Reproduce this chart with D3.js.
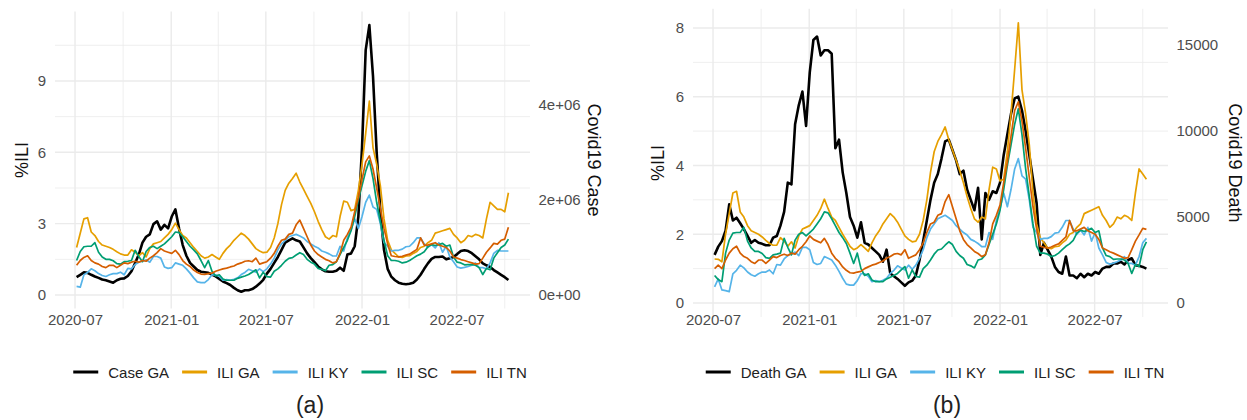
<!DOCTYPE html>
<meta charset="utf-8">
<body style="margin:0;background:#fff">
<div id="chart"></div>

<script src="https://d3js.org/d3.v7.min.js"></script>

<style type="text/css">
  text { font-family: "Liberation Sans", Arial, sans-serif; }
</style>

<script>

// weekly series, first week ends 2020-07-04
var firstWeek = "2020-07-04";

// Covid19 weekly cases, thousands (panel a)
var caseGA = [
  375, 425, 475, 465, 425, 390, 360, 325, 310, 285,
  260, 310, 340, 350, 400, 500, 675, 850, 1100, 1225,
  1275, 1490, 1550, 1375, 1475, 1400, 1650, 1800, 1400, 1050,
  825, 675, 600, 525, 490, 480, 465, 430, 390, 340,
  285, 250, 210, 150, 100, 70, 100, 100, 125, 175,
  240, 320, 450, 550, 675, 800, 950, 1100, 1150, 1190,
  1150, 1125, 1000, 875, 775, 690, 600, 540, 500, 490,
  490, 510, 575, 510, 850, 875, 1025, 1650, 3100, 5150,
  5675, 4600, 3000, 1750, 950, 550, 385, 310, 260, 235,
  225, 235, 260, 325, 425, 550, 665, 760, 800, 800,
  810, 750, 775, 800, 860, 925, 940, 925, 880, 815,
  750, 665, 625, 590, 525, 475, 425, 375, 315
];

// Covid19 weekly deaths (panel b)
var deathGA = [
  2800, 3280, 3600, 4200, 5740, 4800, 4960, 4640, 4300, 3900,
  3500, 3660, 3500, 3440, 3360, 3360, 3800, 3900, 4500, 5300,
  7000, 6900, 10400, 11500, 12300, 10300, 13400, 15300, 15500, 14400,
  14700, 14700, 14500, 9000, 9500, 7600, 6400, 5000, 4500, 3800,
  4700, 3500, 3400, 3200, 3000, 2800, 2400, 3100, 1720, 1560,
  1400, 1200, 1000, 1200, 1300, 1600, 2500, 3600, 4800, 6000,
  7000, 7500, 8400, 9400, 9500, 8900, 8300, 7500, 7700, 6600,
  6000, 5400, 6700, 3700, 6400, 6000, 6500, 6400, 7000, 8600,
  9800, 11000, 11900, 12000, 11200, 10000, 8600, 7200, 5800, 2800,
  3500, 3100, 2700, 2100, 1800, 1700, 2700, 1600, 1600, 1440,
  1700, 1500, 1700, 1600, 1800, 1700, 2000, 2100, 2100, 2300,
  2300, 2400, 2240, 2500, 2600, 2200, 2160, 2100, 2000
];

// %ILI by state (3 more weeks than the covid series)
var iliGA = [
  1.28, 1.27, 1.20, 2.00, 2.60, 3.20, 3.25, 2.65, 2.50, 2.25,
  2.10, 2.05, 2.00, 1.92, 1.82, 1.73, 1.68, 1.68, 1.90, 1.80,
  1.65, 1.78, 1.60, 1.95, 2.15, 2.20, 2.25, 2.40, 2.55, 2.75,
  3.02, 2.75, 2.50, 2.40, 2.20, 2.00, 1.83, 1.65, 1.55, 1.60,
  1.70, 1.60, 1.50, 1.75, 1.95, 2.10, 2.30, 2.45, 2.60, 2.50,
  2.35, 2.15, 1.95, 1.85, 1.78, 1.80, 2.00, 2.40, 3.00, 3.80,
  4.40, 4.70, 4.90, 5.12, 4.75, 4.45, 4.15, 3.85, 3.50, 3.10,
  2.75, 2.45, 2.35, 2.50, 2.45, 3.30, 3.95, 3.90, 3.55, 3.60,
  4.40, 5.50, 6.80, 8.15, 6.20, 5.50, 4.60, 3.20, 2.30, 1.90,
  1.75, 1.60, 1.58, 1.64, 1.65, 1.75, 1.83, 2.00, 2.05, 2.20,
  2.30, 2.60, 2.65, 2.70, 2.75, 2.80, 2.55, 2.40, 2.20, 2.30,
  2.50, 2.45, 2.55, 2.50, 2.40, 3.20, 3.90, 3.75, 3.60, 3.60,
  3.50, 4.30
];
var iliKY = [
  0.47, 0.70, 0.38, 0.36, 0.33, 0.85, 0.95, 1.10, 1.02, 0.90,
  0.82, 0.78, 0.85, 0.90, 0.90, 0.96, 0.85, 1.12, 1.10, 1.28,
  1.38, 1.42, 1.48, 1.38, 1.62, 1.62, 1.55, 1.18, 1.12, 1.15,
  1.35, 1.30, 1.25, 1.10, 0.92, 0.72, 0.55, 0.52, 0.52, 0.65,
  0.85, 0.85, 0.78, 0.62, 0.65, 0.62, 0.66, 0.72, 0.86, 0.95,
  1.08, 1.02, 0.96, 1.10, 0.98, 1.10, 1.30, 1.55, 1.90, 2.15,
  2.30, 2.45, 2.50, 2.55, 2.48, 2.40, 2.25, 2.15, 2.05, 1.98,
  1.85, 1.80, 1.73, 1.64, 1.64, 2.05, 1.85, 2.40, 2.75, 3.20,
  2.80, 3.30, 3.90, 4.20, 3.70, 3.60, 3.00, 2.20, 2.05, 1.85,
  1.88, 1.88, 1.93, 2.03, 2.05, 2.20, 2.40, 2.40, 2.15, 2.00,
  2.12, 1.98, 2.20, 1.80, 2.05, 1.60, 1.40, 1.18, 1.13, 1.16,
  1.20, 1.25, 1.35, 1.15, 1.15, 1.10, 1.35, 1.75, 1.88, 1.85,
  1.85, 1.85
];
var iliSC = [
  0.80, 0.68, 0.62, 1.45, 1.83, 2.03, 2.05, 2.05, 2.20, 1.80,
  1.60, 1.50, 1.50, 1.44, 1.32, 1.30, 1.40, 1.42, 1.45, 1.88,
  1.62, 1.40, 1.83, 2.00, 2.05, 1.95, 2.05, 2.15, 2.30, 2.45,
  2.65, 2.62, 2.45, 2.25, 2.05, 1.90, 1.73, 1.45, 1.15, 1.45,
  1.00, 0.80, 0.85, 0.67, 0.62, 0.62, 0.62, 0.70, 0.75, 0.80,
  0.86, 0.96, 1.06, 0.72, 0.96, 0.77, 0.75, 1.00, 1.10, 1.25,
  1.42, 1.54, 1.57, 1.68, 1.78, 1.70, 1.50, 1.38, 1.30, 1.12,
  1.08, 1.02, 1.25, 1.28, 1.40, 1.70, 2.00, 2.30, 2.70, 3.30,
  4.00, 4.60, 5.20, 5.65, 4.90, 3.90, 3.10, 2.30, 1.65, 1.45,
  1.45, 1.42, 1.35, 1.38, 1.45, 1.55, 1.65, 1.72, 1.82, 2.03,
  2.12, 2.08, 2.12, 2.17, 2.05, 2.10, 1.60, 1.38, 1.35, 1.27,
  1.28, 1.28, 1.25, 1.15, 0.86, 1.12, 1.06, 1.55, 1.78, 2.00,
  2.10, 2.35
];
var iliTN = [
  1.00, 1.10, 1.00, 1.25, 1.45, 1.58, 1.65, 1.45, 1.35, 1.30,
  1.20, 1.15, 1.25, 1.25, 1.15, 1.25, 1.35, 1.32, 1.38, 1.42,
  1.38, 1.45, 1.42, 1.55, 1.65, 1.78, 1.95, 1.85, 1.80, 1.75,
  1.88, 1.70, 1.45, 1.30, 1.20, 1.05, 0.95, 0.88, 0.87, 0.90,
  0.92, 1.00, 1.05, 1.10, 1.13, 1.18, 1.22, 1.30, 1.35, 1.42,
  1.44, 1.40, 1.55, 1.30, 1.35, 1.40, 1.55, 1.75, 2.05, 2.30,
  2.35, 2.55, 2.60, 2.95, 3.15, 2.80, 2.45, 2.10, 1.85, 1.70,
  1.60, 1.50, 1.44, 1.35, 1.40, 1.75, 2.30, 2.55, 2.85, 3.50,
  4.10, 4.85, 5.60, 5.85, 5.30, 4.50, 3.65, 2.80, 2.15, 1.65,
  1.62, 1.60, 1.63, 1.68, 1.72, 1.82, 1.92, 2.40, 2.10, 2.10,
  2.15, 2.20, 2.10, 2.05, 2.00, 1.85, 1.60, 1.55, 1.49, 1.45,
  1.40, 1.35, 1.30, 1.32, 1.55, 1.80, 1.98, 2.17, 2.14, 2.30,
  2.35, 2.85
];

// in panel (a) the ILI is shown 3 weeks earlier (lined up with cases)
var iliLeadWeeks = 3;

var iliNames = ["ILI GA", "ILI KY", "ILI SC", "ILI TN"];
var iliColors = ["#E69F00", "#56B4E9", "#009E73", "#D55E00"];

var dateTicks = ["2020-07", "2021-01", "2021-07", "2022-01", "2022-07"];
var caseTicks = [0, 2e6, 4e6];
var caseTickLabels = ["0e+00", "2e+06", "4e+06"];
var deathTicks = [0, 5000, 10000, 15000];

var font = '"Liberation Sans", Arial, sans-serif';
var parseDay = d3.timeParse("%Y-%m-%d"),
    parseMonth = d3.timeParse("%Y-%m");

var svg = d3.select("#chart")
  .append("svg")
    .attr("width", 1247)
    .attr("height", 420);

function expand(lo, hi, f) {
  var d = (hi - lo) * f;
  return [lo - d, hi + d];
}

function styleAxis(g) {
  g.select(".domain").remove();
  g.attr("font-family", font).attr("font-size", 15);
  g.selectAll("text").attr("fill", "#4d4d4d");
}

function drawPanel(p) {
  var g = svg.append("g");
  var n = p.black.length;
  var weeks = d3.range(n).map(function(i) { return d3.timeWeek.offset(parseDay(firstWeek), i); });
  var ili = [iliGA, iliKY, iliSC, iliTN].map(function(s) { return s.slice(p.iliOffset, p.iliOffset + n); });

  var x = d3.scaleTime()
    .domain(expand(+weeks[0], +weeks[n - 1], 0.05).map(function(v) { return new Date(v); }))
    .range([p.left, p.right]);

  var top = Math.max(d3.max(p.black) / p.factor, d3.max(ili, function(s) { return d3.max(s); }));
  var y = d3.scaleLinear()
    .domain(expand(0, top, 0.05))
    .range([p.bottom, p.top]);
  // secondary axis, same positions in covid units
  var yR = d3.scaleLinear()
    .domain(y.domain().map(function(v) { return v * p.factor; }))
    .range(y.range());

  // grid
  var step = p.yTicks[1] - p.yTicks[0];
  var yMinor = p.yTicks.map(function(t) { return t + step / 2; })
    .filter(function(v) { return v < y.domain()[1]; });
  var xMajor = dateTicks.map(parseMonth);
  var xMinor = xMajor.map(function(d) { return d3.timeMonth.offset(d, 3); })
    .filter(function(d) { return d < x.domain()[1]; });

  var grid = g.append("g").attr("stroke", "#ebebeb").attr("fill", "none");
  grid.selectAll(".hmin").data(yMinor).enter().append("line")
    .attr("x1", p.left).attr("x2", p.right)
    .attr("y1", y).attr("y2", y)
    .attr("stroke-width", 0.8);
  grid.selectAll(".vmin").data(xMinor).enter().append("line")
    .attr("x1", x).attr("x2", x)
    .attr("y1", p.top).attr("y2", p.bottom)
    .attr("stroke-width", 0.8);
  grid.selectAll(".hmaj").data(p.yTicks).enter().append("line")
    .attr("x1", p.left).attr("x2", p.right)
    .attr("y1", y).attr("y2", y)
    .attr("stroke-width", 1.4);
  grid.selectAll(".vmaj").data(xMajor).enter().append("line")
    .attr("x1", x).attr("x2", x)
    .attr("y1", p.top).attr("y2", p.bottom)
    .attr("stroke-width", 1.4);

  // axes
  g.append("g")
    .attr("transform", "translate(0,314)")
    .call(d3.axisBottom(x).tickValues(xMajor).tickFormat(d3.timeFormat("%Y-%m")).tickSize(0).tickPadding(0))
    .call(styleAxis);

  g.append("g")
    .attr("transform", "translate(" + p.left + ",0)")
    .call(d3.axisLeft(y).tickValues(p.yTicks).tickFormat(d3.format("d")).tickSize(0).tickPadding(9))
    .call(styleAxis);

  g.append("g")
    .attr("transform", "translate(" + p.right + ",0)")
    .call(d3.axisRight(yR).tickValues(p.rTicks).tickFormat(function(d, i) { return p.rLabels[i]; }).tickSize(0).tickPadding(8.5))
    .call(styleAxis);

  var yMid = (p.top + p.bottom) / 2;
  g.append("text")
    .attr("transform", "translate(" + p.leftTitleX + "," + yMid + ")rotate(-90)")
    .attr("text-anchor", "middle")
    .attr("dominant-baseline", "central")
    .attr("font-size", 18)
    .attr("fill", "#111")
    .text("%ILI");
  g.append("text")
    .attr("transform", "translate(" + p.rightTitleX + "," + yMid + ")rotate(90)")
    .attr("text-anchor", "middle")
    .attr("dominant-baseline", "central")
    .attr("font-size", 18)
    .attr("fill", "#111")
    .text(p.rightTitle);

  // lines
  var line = d3.line()
    .x(function(d, i) { return x(weeks[i]); });

  g.append("path")
    .datum(p.black)
    .attr("fill", "none")
    .attr("stroke", "#000")
    .attr("stroke-width", 2.6)
    .attr("stroke-linejoin", "round")
    .attr("d", line.y(function(d) { return yR(d); }));

  ili.forEach(function(s, k) {
    g.append("path")
      .datum(s)
      .attr("fill", "none")
      .attr("stroke", iliColors[k])
      .attr("stroke-width", 1.7)
      .attr("stroke-linejoin", "round")
      .attr("d", line.y(function(d) { return y(d); }));
  });

  // legend
  var names = [p.blackName].concat(iliNames),
      colors = ["#000"].concat(iliColors);
  var leg = g.append("g");
  var cx = 0;
  names.forEach(function(name, k) {
    leg.append("line")
      .attr("x1", cx).attr("x2", cx + 25)
      .attr("y1", 0).attr("y2", 0)
      .attr("stroke", colors[k])
      .attr("stroke-width", 3);
    var t = leg.append("text")
      .attr("x", cx + 35)
      .attr("y", 0)
      .attr("dominant-baseline", "central")
      .attr("font-size", 15)
      .attr("fill", "#222")
      .text(name);
    cx += 35 + t.node().getComputedTextLength() + 13;
  });
  cx -= 13;
  leg.attr("transform", "translate(" + (p.legendX - cx / 2) + ",372)");

  g.append("text")
    .attr("x", p.captionX)
    .attr("y", 405)
    .attr("text-anchor", "middle")
    .attr("dominant-baseline", "central")
    .attr("font-size", 23)
    .attr("fill", "#222")
    .text(p.caption);
}

drawPanel({
  left: 55, right: 530, top: 11.6, bottom: 308.5,
  black: caseGA.map(function(v) { return v * 1000; }),
  factor: 500000,
  iliOffset: iliLeadWeeks,
  yTicks: [0, 3, 6, 9],
  rTicks: caseTicks, rLabels: caseTickLabels,
  blackName: "Case GA", rightTitle: "Covid19 Case",
  leftTitleX: 22, rightTitleX: 594,
  legendX: 300, caption: "(a)", captionX: 310
});

drawPanel({
  left: 693, right: 1168, top: 8.8, bottom: 317,
  black: deathGA,
  factor: 2000,
  iliOffset: 0,
  yTicks: [0, 2, 4, 6, 8],
  rTicks: deathTicks, rLabels: deathTicks.map(String),
  blackName: "Death GA", rightTitle: "Covid19 Death",
  leftTitleX: 658, rightTitleX: 1235,
  legendX: 935, caption: "(b)", captionX: 947
});

</script>
